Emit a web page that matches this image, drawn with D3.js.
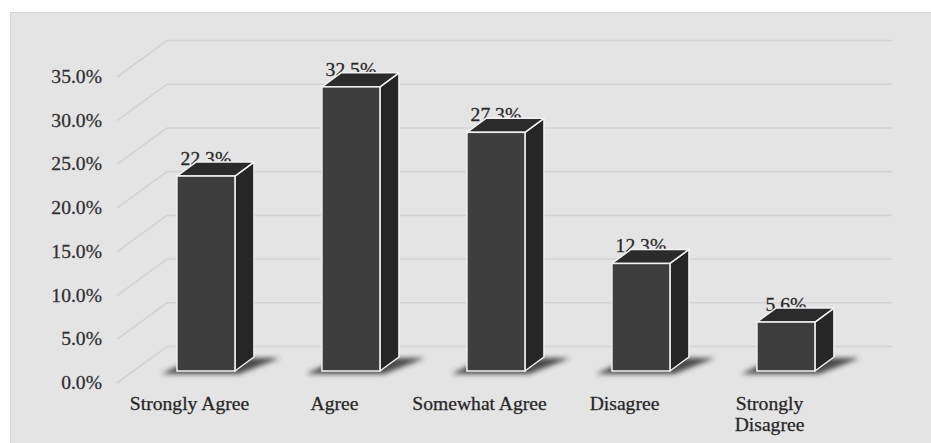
<!DOCTYPE html>
<html>
<head>
<meta charset="utf-8">
<script src="https://cdn.jsdelivr.net/npm/d3@7"></script>
<style>
  html, body { margin: 0; padding: 0; background: #ffffff; }
  svg { display: block; }
  svg text { font-family: "Liberation Serif", "Times New Roman", Times, serif; font-size: 18px; }
</style>
</head>
<body>
<svg id="chart" width="931" height="443"></svg>
<script>
// ---- data ----
const categories = ["Strongly Agree", "Agree", "Somewhat Agree", "Disagree", "Strongly Disagree"];
const categoryLabels = [["Strongly Agree"], ["Agree"], ["Somewhat Agree"], ["Disagree"], ["Strongly", "Disagree"]];
const values = [22.3, 32.5, 27.3, 12.3, 5.6];
const valueLabels = ["22.3%", "32.5%", "27.3%", "12.3%", "5.6%"];
const yTicks = [0, 5, 10, 15, 20, 25, 30, 35];
const yTickLabels = ["0.0%", "5.0%", "10.0%", "15.0%", "20.0%", "25.0%", "30.0%", "35.0%"];

// ---- layout ----
const svg = d3.select("#chart");
const SX = 1.09; // slight horizontal stretch of text
const baseFront = 383;
const depthX = 50, depthY = 36.5;
const barBase = 371;
const barFrontFrac = (baseFront - barBase) / depthY;
const barDepthX = 19, barDepthY = 14;

const h = d3.scaleLinear().domain([0, 35]).range([0, 306]);
const x = d3.scaleBand().domain(categories).range([117, 842]).padding(0);
const step = x.step();
const barW = step * 0.4;

svg.append("rect").attr("x", 10.5).attr("y", 12.5).attr("width", 940).attr("height", 440)
  .attr("fill", "#e4e4e4").attr("stroke", "#d4d4d4").attr("stroke-width", 1);

const defs = svg.append("defs");
defs.append("filter").attr("id", "blur").attr("x", "-50%").attr("y", "-50%").attr("width", "200%").attr("height", "200%")
  .append("feGaussianBlur").attr("stdDeviation", 2.5);

const xFront0 = 117, xBack0 = xFront0 + depthX, xBackEnd = 892;
const grid = svg.append("g");
yTicks.forEach((t, i) => {
  const yf = baseFront - h(t);
  const yb = yf - depthY;
  grid.append("path")
    .attr("d", `M${xFront0},${yf} L${xBack0},${yb} L${xBackEnd},${yb}`)
    .attr("fill", "none").attr("stroke", "#d3d3d3").attr("stroke-width", 1.6);
  svg.append("g").attr("transform", `translate(102,${yf + 6}) scale(${SX},1)`)
    .append("text").attr("text-anchor", "end").attr("fill", "#2e2e2e")
    .attr("stroke", "#2e2e2e").attr("stroke-width", 0.25)
    .text(yTickLabels[i]);
});

const bars = svg.append("g");
categories.forEach((c, i) => {
  const cxFront = x(c) + step / 2;
  const cx = cxFront + depthX * barFrontFrac;
  const x0 = cx - barW / 2, x1 = cx + barW / 2;
  const y0 = barBase, yt = barBase - h(values[i]);
  const dx = barDepthX, dy = barDepthY;

  bars.append("path")
    .attr("d", `M${x0 - 16},${y0 + 3} L${x1 + 4},${y0 + 3} L${x1 + dx + 26},${y0 - dy + 1} L${x0 + dx},${y0 - dy + 1} Z`)
    .attr("fill", "#2e2e2e").attr("opacity", 0.85).attr("filter", "url(#blur)");

  bars.append("g").attr("transform", `translate(${cx},${yt - 11}) scale(${SX},1)`)
    .append("text").attr("text-anchor", "middle").attr("fill", "#262626")
    .attr("stroke", "#262626").attr("stroke-width", 0.25)
    .text(valueLabels[i]);

  const stroke = "#f2f2f2";
  bars.append("path")
    .attr("d", `M${x1},${yt} L${x1 + dx},${yt - dy} L${x1 + dx},${y0 - dy} L${x1},${y0} Z`)
    .attr("fill", "#262626").attr("stroke", stroke).attr("stroke-width", 1.5).attr("stroke-linejoin", "round");
  bars.append("path")
    .attr("d", `M${x0},${yt} L${x0 + dx},${yt - dy} L${x1 + dx},${yt - dy} L${x1},${yt} Z`)
    .attr("fill", "#2b2b2b").attr("stroke", stroke).attr("stroke-width", 1.5).attr("stroke-linejoin", "round");
  bars.append("rect")
    .attr("x", x0).attr("y", yt).attr("width", barW).attr("height", y0 - yt)
    .attr("fill", "#3e3e3e").attr("stroke", stroke).attr("stroke-width", 1.5);

  categoryLabels[i].forEach((ln, j) => {
    svg.append("g").attr("transform", `translate(${cxFront},${410 + j * 21}) scale(${SX},1)`)
      .append("text").attr("text-anchor", "middle").attr("fill", "#262626")
      .attr("stroke", "#262626").attr("stroke-width", 0.25)
      .text(ln);
  });
});
</script>
</body>
</html>
